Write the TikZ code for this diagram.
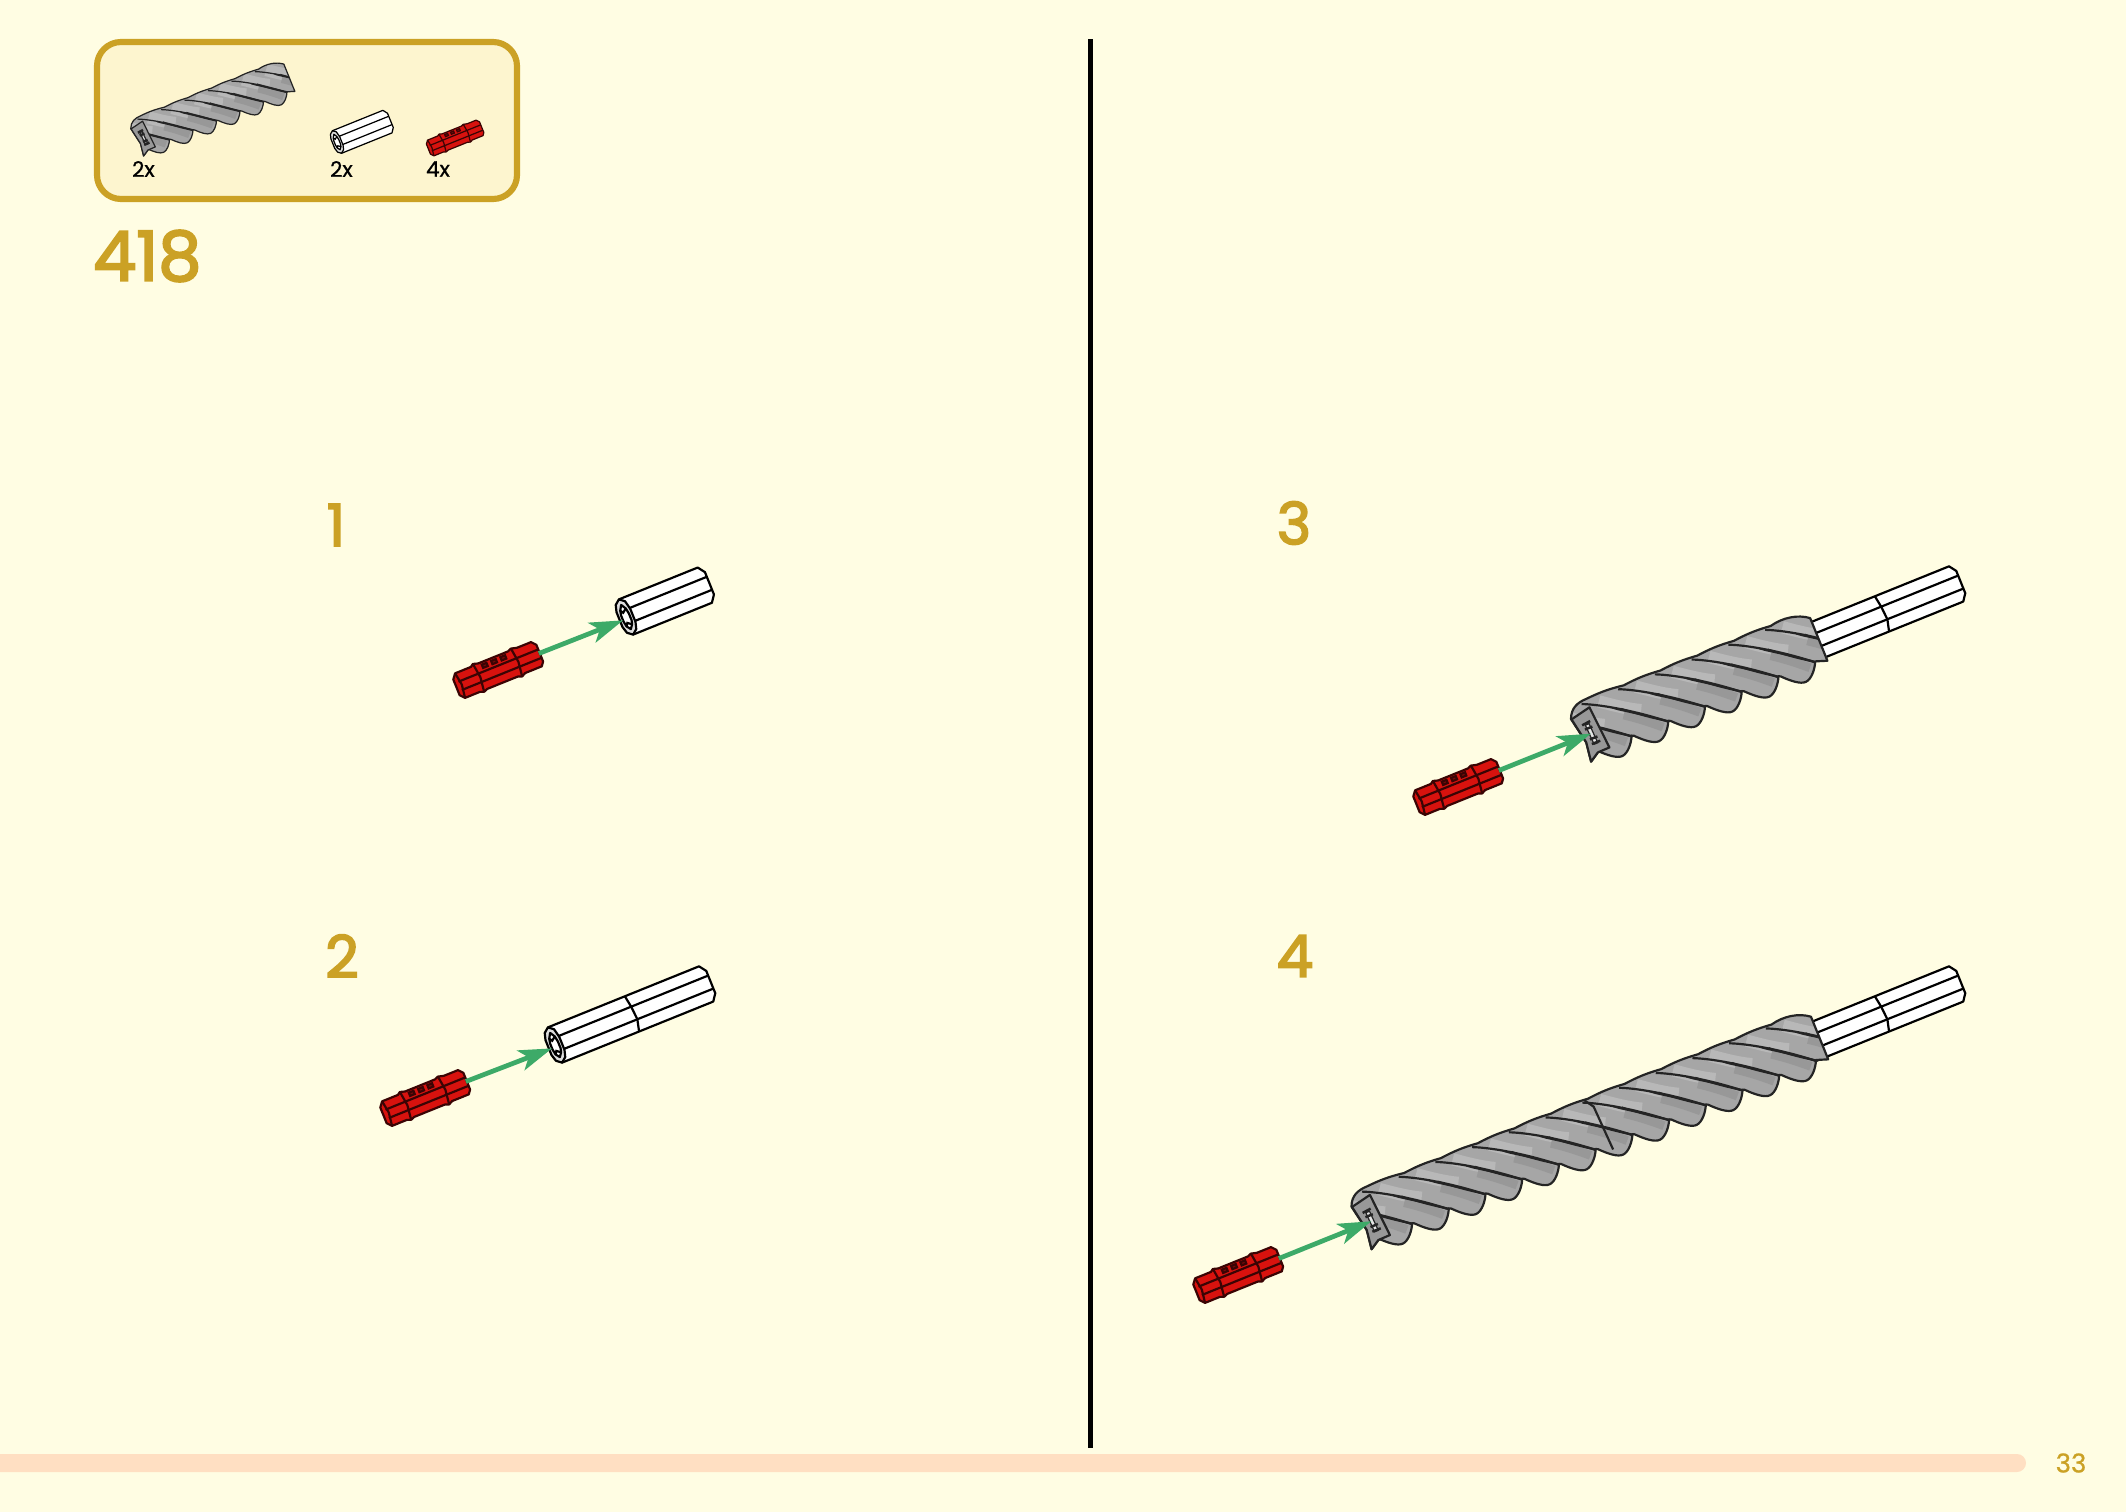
\documentclass[tikz,border=0pt]{standalone}
\usepackage{fontspec}
\setmainfont{Poppins}
\newfontfamily\numfont[FakeBold=3]{Poppins}
\newfontfamily\qtyfont[FakeBold=0.8]{Poppins}
\usetikzlibrary{arrows.meta}
\definecolor{pagebg}{HTML}{FFFDE3}
\definecolor{boxbg}{HTML}{FDF5CF}
\definecolor{gold}{HTML}{CBA125}
\definecolor{barpeach}{HTML}{FFDFC2}
\definecolor{arrowgreen}{HTML}{3DAA68}
\definecolor{pinred}{HTML}{D8120E}
\definecolor{pindark}{HTML}{3A0404}
\definecolor{screwgrey}{HTML}{A6A6A6}
\definecolor{screwlight}{HTML}{B8B8B8}
\definecolor{screwshade}{HTML}{989898}
\definecolor{screwdark}{HTML}{242424}
\newcommand\screwoutline[1]{(-10,-18) .. controls (-6,-28) and (2,-31) .. (12,-31)
    \foreach \k [evaluate=\k as \x using 12+39.6*\k] in {1,...,\lastlobe} { to[bend left=6] (\x,-29.5) }
    .. controls (\screwend-25,-33) and (\screwend-10,-30) .. (\screwend,-22) -- (\screwend,24)
    \foreach \k [evaluate=\k as \v using 40+39.6*\k] in {\lastlobe,\nextlobe,...,0} {
        -- (\v,20) .. controls (\v-3,27) and (\v-10,35) .. (\v-16,35.5)
        .. controls (\v-22,36) and (\v-30,29) .. (\v-37.6,21) }
    -- (2.4,23) -- (-7.3,29) -- (-4.6,9.3) -- cycle}
\tikzset{
    tilted/.style={rotate=22},
    listpart/.style={tilted,scale=.64,line width=.35pt},
    qty/.style={anchor=west,inner sep=0,text=black,font=\qtyfont\fontsize{6.1}{7}\selectfont},
    stepnum/.style={anchor=center,inner sep=0,text=gold,font=\numfont\fontsize{16.5}{18}\selectfont},
    insertarrow/.style={draw=arrowgreen,line width=1.35pt,-{Stealth[length=9.5pt,width=6pt,inset=2.4pt]}},
    pics/pin/.style={code={
        \coordinate (-tail) at (44,0);
        \draw[fill=pinred,draw=pindark,line join=round] (-45,-8) -- (-41,-13) -- (-24,-13) -- (-21,-15) -- (-16,-13.5) -- (16,-13.5) -- (20,-15) -- (26,-13.5) -- (41,-13.5) -- (45,-9) -- (45,9) -- (42,13) -- (24,13) -- (20,15) -- (16,13.5) -- (-17,13.5) -- (-21,15) -- (-25,13.5) -- (-41,13.5) -- (-45,9) -- cycle;
        \draw[draw=pindark] (-41,-4) -- (45,-4) (-41,5) -- (45,5);
        \draw[draw=pindark] (-21,-15) -- (-19,0) -- (-21,15) (20,-15) -- (22,0) -- (20,15);
        \draw[draw=pindark] (-41,-13) -- (-39,0) -- (-41,13.5);
        \foreach \n in {-13,-3,7} {
            \draw[fill=pindark!60!pinred,draw=pindark] (\n,-11) rectangle (\n+5,-7.5);
        }
    }},
    pics/axle/.style={code={
        \pgfmathsetmacro\axlelen{78*#1+12}
        \coordinate (-face) at (-4,2);
        \draw[fill=white,line join=round] (0,-19) -- (\axlelen-5,-19) -- (\axlelen,-12) -- (\axlelen,12) -- (\axlelen-5,19) -- (0,19) -- cycle;
        \draw (3,-7) -- (\axlelen,-7) (3,7) -- (\axlelen,7);
        \foreach \j in {1,...,#1} {
            \ifnum\j<#1
                \draw (83*\j,-19) -- (83*\j+2,-7) -- (83*\j+3,7) -- (83*\j,19);
            \fi
        }
        \draw[fill=black!13,line join=round] (-7,-8) -- (-5,-15) -- (0,-19) -- (5,-15) -- (7,-6) -- (7,8) -- (5,15) -- (0,19) -- (-5,15) -- (-7,8) -- cycle;
        \draw[fill=white,line join=round] (-3,-8) -- (0,-13) -- (3,-8) -- (4,-2) -- (4,5) -- (3,9) -- (0,13) -- (-3,9) -- (-4,3) -- (-4,-3) -- cycle;
        \draw (-3,-8) -- (-1,-5) -- (3,-8) (-3,9) -- (-1,6) -- (3,9);
    }},
    pics/screw/.style={code={
        \pgfmathsetmacro\screwend{12+39.6*#1}
        \pgfmathtruncatemacro\lastlobe{#1-1}
        \pgfmathtruncatemacro\nextlobe{#1-2}
        \coordinate (-face) at (3,3);
        \fill[screwgrey] \screwoutline{#1};
        \begin{scope}
            \clip \screwoutline{#1};
            \foreach \k [evaluate=\k as \x using 39.6*\k] in {-2,-1,...,#1} {
                \draw[screwlight,line width=3.5pt] (\x+62,-24) .. controls (\x+74,-15) and (\x+86,-6) .. (\x+98,0);
                \draw[screwshade,line width=2.5pt] (\x+80,-2) .. controls (\x+90,5) and (\x+100,13) .. (\x+112,24);
                \draw[draw=screwdark] (\x+45,-28) .. controls (\x+66,-19) and (\x+98,3) .. (\x+119,21);
                \draw[draw=screwdark,line width=.4pt] (\x+72,-13) -- (\x+77,-9) .. controls (\x+90,0) and (\x+105,10) .. (\x+119,20);
                \draw[draw=screwdark,line width=.4pt] (\x+80,-9) .. controls (\x+92,2) and (\x+106,12) .. (\x+119,21);
            }
        \end{scope}
        \draw[draw=screwdark,line join=round] \screwoutline{#1};
        \ifnum#1>6
            \draw[draw=screwdark] (246,-29) -- (252,-20) -- (254,27);
        \fi
        \draw[fill=screwshade,draw=screwdark,line join=round] (11.5,-22) -- (-9.6,-17.5) -- (-4.6,9.3) -- (-7.3,29) -- (2.4,23) -- (15,22.7) -- cycle;
        \draw[fill=black!10,draw=screwdark,line width=.35pt] (1,-7) -- (5,-7) -- (6,14) -- (2,14) -- cycle;
        \draw[draw=screwdark,line width=.7pt] (-2,-8) -- (7,-9) (-1,-3) -- (7,-3) (0,8) -- (8,8) (0,13) -- (9,13);
    }}
}
\begin{document}
\begin{tikzpicture}[x=0.01cm,y=-0.01cm,line width=.62pt]
    \useasboundingbox (0,0) rectangle (2126,1512);
    \fill[pagebg] (0,0) rectangle (2126,1512);
    \draw[gold,fill=boxbg,line width=1.75pt,rounded corners=24*0.01cm] (97,42) rectangle (517,199);
    \pic[listpart] (listscrew) at (141,137) {screw=6};
    \pic[listpart] (listaxle) at (337,142) {axle=1};
    \pic[listpart] (listpin) at (455,138) {pin};
    \node[qty] (qtyscrew) at (131,169) {2x};
    \node[qty] (qtyaxle) at (329,169) {2x};
    \node[qty] (qtypin) at (425,169) {4x};
    \node[anchor=west,inner sep=0,text=gold,font=\numfont\fontsize{19.5}{22}\selectfont] (setno) at (92,256) {418};
    \node[stepnum] (stepA) at (336,525) {1};
    \node[stepnum] (stepB) at (342,956) {2};
    \node[stepnum] (stepC) at (1294,523) {3};
    \node[stepnum] (stepD) at (1295,956) {4};
    \fill[black] (1087.5,39) rectangle (1092.5,1448);
    \fill[barpeach,rounded corners=9*0.01cm] (-30,1454) rectangle (2026,1472);
    \node[inner sep=0,text=gold,font=\qtyfont\fontsize{7.4}{9}\selectfont] (pageno) at (2071,1463) {33};
    \pic[tilted] (axleA) at (626,617) {axle=1};
    \pic[tilted] (pinA) at (498,670) {pin};
    \draw[insertarrow] (pinA-tail) -- (axleA-face);
    \pic[tilted] (axleB) at (555,1045) {axle=2};
    \pic[tilted] (pinB) at (425,1098) {pin};
    \draw[insertarrow] (pinB-tail) -- (axleB-face);
    \pic[tilted] (axleC) at (1805,645) {axle=2};
    \pic[tilted] (screwC) at (1587,732) {screw=6};
    \pic[tilted] (pinC) at (1458,787) {pin};
    \draw[insertarrow] (pinC-tail) -- (screwC-face);
    \pic[tilted] (axleD) at (1805,1045) {axle=2};
    \pic[tilted] (screwD) at (1367.5,1219.6) {screw=12};
    \pic[tilted] (pinD) at (1238,1275) {pin};
    \draw[insertarrow] (pinD-tail) -- (screwD-face);
\end{tikzpicture}
\end{document}
